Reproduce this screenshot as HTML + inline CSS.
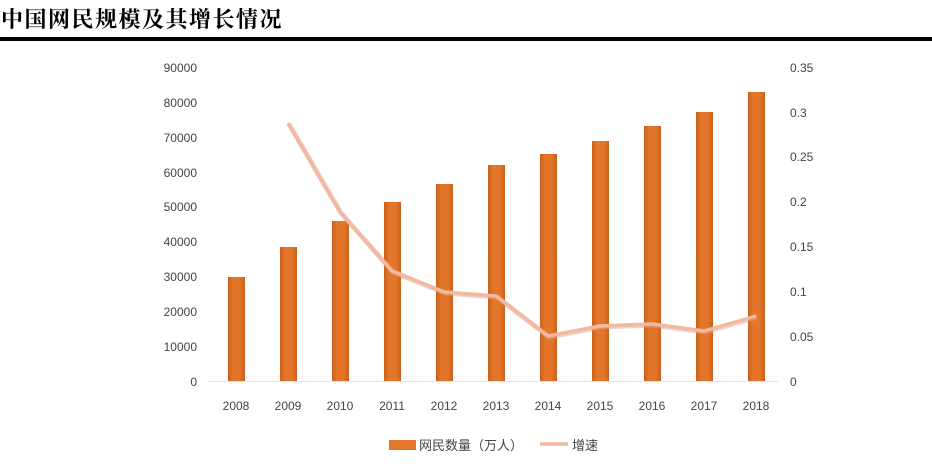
<!DOCTYPE html>
<html><head><meta charset="utf-8"><style>
body{margin:0;background:#fff;width:932px;height:470px;overflow:hidden;font-family:"Liberation Sans","Noto Sans CJK SC",sans-serif;}
.t{position:absolute;left:1px;top:3px;font:bold 22px "Noto Serif CJK SC","WenQuanYi Zen Hei",serif;color:#000;letter-spacing:1.5px}
.rule{position:absolute;left:0;top:37px;width:932px;height:4px;background:#000}
</style></head><body>
<div class="t">中国网民规模及其增长情况</div>
<div class="rule"></div>
<svg width="932" height="470" style="position:absolute;left:0;top:0" font-family="Liberation Sans,Noto Sans CJK SC,sans-serif" font-size="12" fill="#444">
<defs><linearGradient id="g" x1="0" x2="1"><stop offset="0" stop-color="#c9601a"/><stop offset="0.3" stop-color="#e3762a"/><stop offset="0.7" stop-color="#e3762a"/><stop offset="1" stop-color="#c9601a"/></linearGradient></defs>
<g text-anchor="end">
<text x="197" y="72">90000</text><text x="197" y="107">80000</text><text x="197" y="142">70000</text><text x="197" y="177">60000</text><text x="197" y="211">50000</text><text x="197" y="246">40000</text><text x="197" y="281">30000</text><text x="197" y="316">20000</text><text x="197" y="351">10000</text><text x="197" y="386">0</text>
</g>
<g text-anchor="start">
<text x="790" y="72">0.35</text><text x="790" y="117">0.3</text><text x="790" y="161">0.25</text><text x="790" y="206">0.2</text><text x="790" y="251">0.15</text><text x="790" y="296">0.1</text><text x="790" y="341">0.05</text><text x="790" y="386">0</text>
</g>
<line x1="208" y1="381.5" x2="778" y2="381.5" stroke="#dde4ee" stroke-width="1"/>
<g fill="url(#g)">
<rect x="228" y="277" width="17" height="104"/><rect x="280" y="247" width="17" height="134"/><rect x="332" y="221" width="17" height="160"/><rect x="384" y="202" width="17" height="179"/><rect x="436" y="184" width="17" height="197"/><rect x="488" y="165" width="17" height="216"/><rect x="540" y="154" width="17" height="227"/><rect x="592" y="141" width="17" height="240"/><rect x="644" y="126" width="17" height="255"/><rect x="696" y="112" width="17" height="269"/><rect x="748" y="92" width="17" height="289"/>
</g>
<polyline points="288,123 340,212 392,271 444,292 496,296 548,336 600,326 652,324 704,331 756,316" fill="none" stroke="#e8a48c" stroke-width="5" stroke-linejoin="round" opacity="0.5" transform="translate(1,1)"/>
<polyline points="288,123 340,212 392,271 444,292 496,296 548,336 600,326 652,324 704,331 756,316" fill="none" stroke="#f2b9a2" stroke-width="3.5" stroke-linejoin="round"/>
<g text-anchor="middle">
<text x="236" y="410">2008</text><text x="288" y="410">2009</text><text x="340" y="410">2010</text><text x="392" y="410">2011</text><text x="444" y="410">2012</text><text x="496" y="410">2013</text><text x="548" y="410">2014</text><text x="600" y="410">2015</text><text x="652" y="410">2016</text><text x="704" y="410">2017</text><text x="756" y="410">2018</text>
</g>
<rect x="389" y="440" width="27" height="10" fill="#e3762a"/>
<text x="419" y="450" font-size="13">网民数量（万人）</text>
<line x1="540" y1="444" x2="568" y2="444" stroke="#f2b9a2" stroke-width="3.5"/>
<text x="572" y="450" font-size="13">增速</text>
</svg>
</body></html>
